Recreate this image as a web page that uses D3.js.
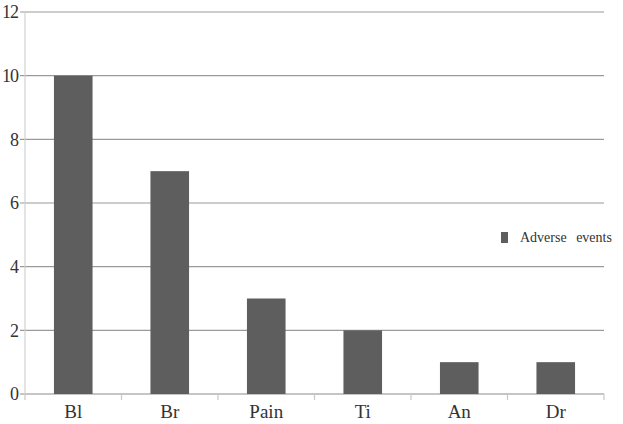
<!DOCTYPE html>
<html><head><meta charset="utf-8">
<script src="https://cdn.jsdelivr.net/npm/d3@7"></script>
<style>body{margin:0;background:#fff}svg{display:block}text{font-family:"Liberation Serif","Times New Roman",serif}</style>
</head><body><svg id="c" width="623" height="424"></svg>
<script>
const categories = ["Bl","Br","Pain","Ti","An","Dr"];
const values = [10,7,3,2,1,1];
const yTicks = [0,2,4,6,8,10,12];
const seriesName = "Adverse events";

const svg = d3.select("#c");
const L = 25, R = 604, T = 12, B = 394;
const x = d3.scaleBand().domain(categories).range([L,R]).paddingInner(0).paddingOuter(0);
const y = d3.scaleLinear().domain([0,12]).range([B,T]);

svg.append("g").selectAll("line").data(yTicks).join("line")
  .attr("x1",L-5).attr("x2",R).attr("y1",d=>y(d)).attr("y2",d=>y(d))
  .attr("stroke",d=>d===0?"#8c8c8c":"#9a9a9a").attr("stroke-width",1.2);
svg.append("line").attr("x1",L).attr("x2",L).attr("y1",T).attr("y2",B)
  .attr("stroke","#d0d0d0").attr("stroke-width",1.2);
svg.append("g").selectAll("text").data(yTicks).join("text")
  .attr("x",18).attr("y",d=>y(d)).attr("dy","0.35em").attr("text-anchor","end")
  .attr("font-size",18).attr("letter-spacing",-1).attr("fill","#333").text(d=>d);
const bounds = categories.map(c=>x(c)).concat([R]);
svg.append("g").selectAll("line").data(bounds).join("line")
  .attr("x1",d=>d).attr("x2",d=>d).attr("y1",B).attr("y2",B+6)
  .attr("stroke","#c8c8c8").attr("stroke-width",1.2);
const bw = x.bandwidth()*0.4;
svg.append("g").selectAll("rect").data(categories).join("rect")
  .attr("x",d=>x(d)+x.bandwidth()/2-bw/2).attr("width",bw)
  .attr("y",(d,i)=>y(values[i])).attr("height",(d,i)=>B-y(values[i]))
  .attr("fill","#5e5e5e");
svg.append("g").selectAll("text").data(categories).join("text")
  .attr("x",d=>x(d)+x.bandwidth()/2).attr("y",418).attr("text-anchor","middle")
  .attr("font-size",19).attr("fill","#333").text(d=>d);
svg.append("rect").attr("x",501).attr("y",232).attr("width",7).attr("height",11).attr("fill","#5e5e5e");
svg.append("text").attr("x",520).attr("y",242).attr("font-size",14)
  .attr("word-spacing",6).attr("fill","#333").text(seriesName);
</script></body></html>
